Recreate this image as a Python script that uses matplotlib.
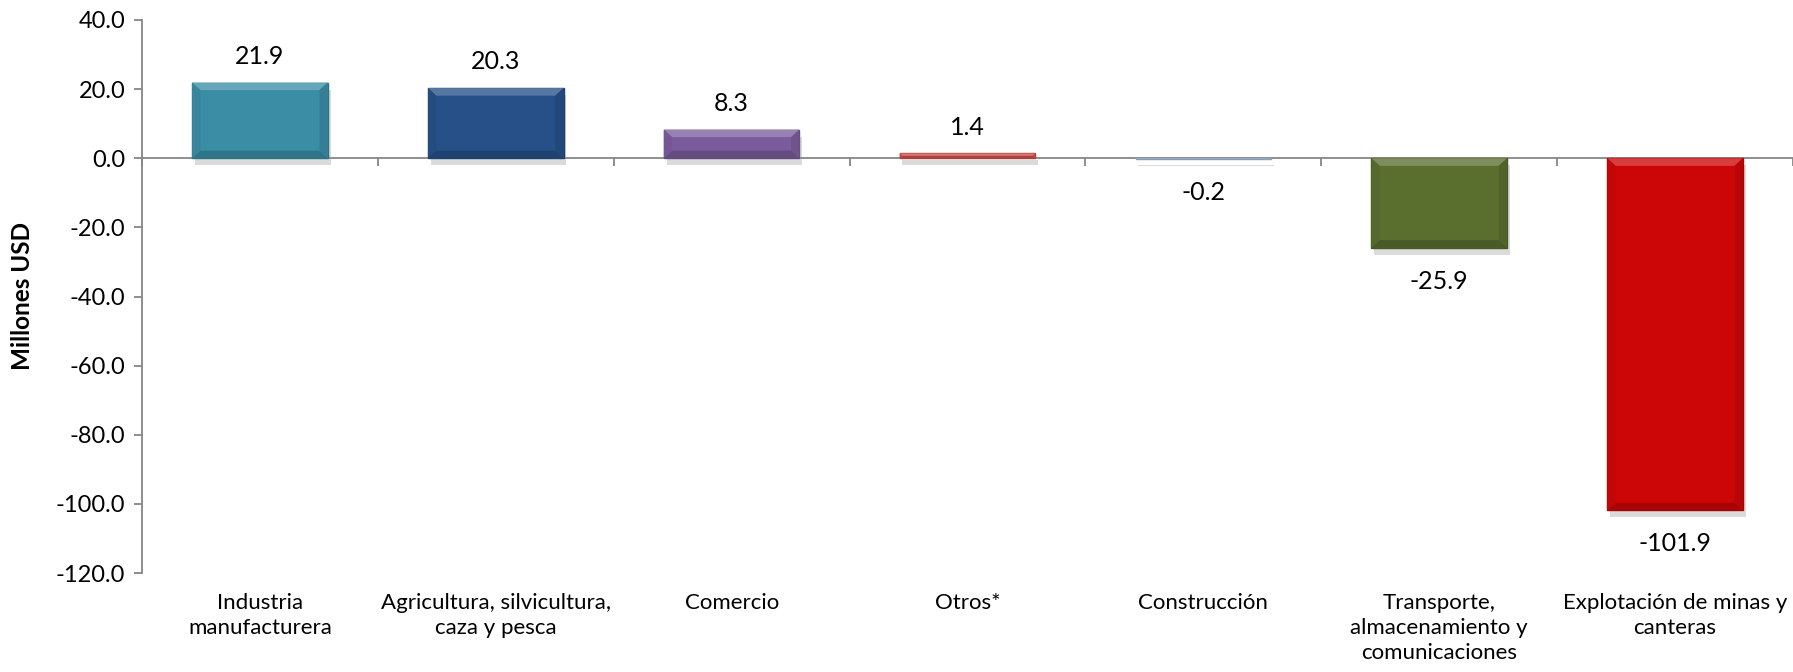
import matplotlib
matplotlib.use("Agg")
import matplotlib.pyplot as plt
import matplotlib.patheffects as pe
import matplotlib.transforms as mtransforms
from matplotlib.patches import Polygon
import matplotlib.colors as mcolors
import numpy as np

categories = ["Industria\nmanufacturera", "Agricultura, silvicultura,\ncaza y pesca", "Comercio",
              "Otros*", "Construcción", "Transporte,\nalmacenamiento y\ncomunicaciones",
              "Explotación de minas y\ncanteras"]
values = [21.9, 20.3, 8.3, 1.4, -0.2, -25.9, -101.9]
colors = ["#3A8DA5", "#265087", "#7A5C9C", "#D0504C", "#A9C5E2", "#5A6E2E", "#CC0606"]
yticks = [40, 20, 0, -20, -40, -60, -80, -100, -120]

plt.rcParams['font.family'] = ['Lato', 'DejaVu Sans']


def shade(c, f):
    r = np.array(mcolors.to_rgb(c))
    if f >= 0:
        r = r + (1 - r) * f
    else:
        r = r * (1 + f)
    return tuple(np.clip(r, 0, 1))


fig = plt.figure(figsize=(17.93, 6.72), dpi=100)
ax = fig.add_axes([142/1793, 1-573/672, 1-142/1793, (573-20)/672])

x = np.arange(len(values))
width = 0.575
edge_colors = [shade(c, -0.2) for c in colors]
bars = ax.bar(x, values, width=width, color=colors, edgecolor=edge_colors, linewidth=1.0, zorder=3)
for b in bars:
    b.set_path_effects([pe.SimplePatchShadow(offset=(2, -5), shadow_rgbFace='#9a9a9a', alpha=0.35), pe.Normal()])

ax.set_xlim(-0.5, len(values) - 0.5)
ax.set_ylim(-120, 40)

# bevel (derived from bar geometry)
bx = 0.035   # x bevel in data units
by = 2.2     # y bevel in data units
for xi, v, c in zip(x, values, colors):
    x0, x1 = xi - width / 2, xi + width / 2
    lo, hi = min(0, v), max(0, v)
    h = hi - lo
    dy = min(by, h / 2)
    dx = bx * (dy / by)
    top = [(x0, hi), (x1, hi), (x1 - dx, hi - dy), (x0 + dx, hi - dy)]
    bot = [(x0, lo), (x1, lo), (x1 - dx, lo + dy), (x0 + dx, lo + dy)]
    left = [(x0, lo), (x0 + dx, lo + dy), (x0 + dx, hi - dy), (x0, hi)]
    right = [(x1, lo), (x1 - dx, lo + dy), (x1 - dx, hi - dy), (x1, hi)]
    for poly, f in [(top, 0.22), (bot, -0.18), (left, -0.05), (right, -0.1)]:
        ax.add_patch(Polygon(poly, closed=True, facecolor=shade(c, f), edgecolor='none', zorder=4))

ax.set_yticks(yticks)
ax.set_yticklabels([f"{v:.1f}" for v in yticks], fontsize=17)

for s in ['top', 'right']:
    ax.spines[s].set_visible(False)
ax.spines['left'].set_color('#868686')
ax.spines['left'].set_linewidth(1.3)
ax.spines['bottom'].set_position(('data', 0))
ax.spines['bottom'].set_color('#868686')
ax.spines['bottom'].set_linewidth(1.3)
ax.spines['bottom'].set_zorder(2)
ax.tick_params(axis='y', length=6, color='#868686', width=1.3, pad=6)

ax.set_xticks(np.arange(len(values) + 1) - 0.5)
ax.set_xticklabels([])
ax.tick_params(axis='x', length=6, color='#868686', width=1.3)

for xi, v in zip(x, values):
    off = 19 if v >= 0 else -24
    ax.annotate(f"{v:.1f}", (xi, v), xytext=(0, off), textcoords='offset points',
                ha='center', va='center', fontsize=18)

trans = mtransforms.blended_transform_factory(ax.transData, ax.transAxes)
for xi, c in zip(x, categories):
    ax.text(xi, -0.036, c, transform=trans, ha='center', va='top', fontsize=16, linespacing=1.32)

ax.set_ylabel("Millones USD", fontsize=17.5, fontweight='bold', labelpad=16)

fig.savefig("out.png", dpi=100)
